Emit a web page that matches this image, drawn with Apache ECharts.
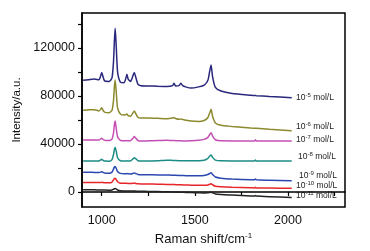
<!DOCTYPE html>
<html>
<head>
<meta charset="utf-8">
<script src="https://cdn.jsdelivr.net/npm/echarts@6/dist/echarts.min.js"></script>
<style>
  html, body { margin: 0; padding: 0; background: #fff; }
  #chart { width: 370px; height: 251px; }
</style>
</head>
<body>
<div id="chart"></div>
<script>
// Raman shift (cm-1) shared by all spectra
const shift = [900, 930, 960, 985, 995, 1000, 1005, 1015, 1040, 1055, 1063, 1068, 1072, 1077, 1085, 1100,
  1120, 1130, 1135, 1142, 1155, 1168, 1175, 1182, 1195, 1210, 1250, 1300, 1350, 1380, 1388, 1396,
  1415, 1425, 1435, 1450, 1480, 1520, 1550, 1570, 1580, 1587, 1595, 1610, 1640, 1700, 1800, 1820,
  1825, 1830, 1900, 2020];

// intensities
const c5 = [93000, 93500, 94000, 93500, 97000, 99400, 97000, 92500, 92000, 95000, 108000, 126000, 136300, 124000, 100000, 91500,
  91000, 95000, 98000, 94000, 92000, 97000, 99400, 96000, 89500, 88500, 88300, 88000, 87800, 88500, 90500, 88300,
  88500, 90500, 88500, 87500, 86500, 87500, 89000, 93000, 101000, 105800, 96000, 87000, 84000, 82000, 80500, 80300,
  80300, 80200, 79500, 78500];
const c6 = [68000, 68500, 68500, 67500, 69000, 70200, 68500, 66500, 66000, 68000, 76000, 88000, 93300, 85000, 70000, 65000,
  64000, 64500, 65000, 63500, 63000, 66000, 67500, 65500, 62000, 61500, 61500, 61300, 61000, 61500, 62000, 61200,
  60500, 60800, 60300, 59800, 59000, 58700, 59500, 62000, 66000, 68900, 63000, 57500, 55500, 54500, 53200, 53100,
  53100, 53000, 52200, 51000];
const c7 = [43300, 43300, 43300, 43200, 44300, 44700, 44000, 43000, 42800, 44000, 49000, 56000, 59000, 54000, 46000, 43000,
  42600, 42700, 42800, 42600, 42800, 44800, 46100, 45000, 42800, 42400, 42600, 42800, 43000, 42800, 42900, 42700,
  42600, 42600, 42500, 42500, 42600, 43000, 43800, 45500, 48000, 49400, 46500, 43500, 42600, 42500, 42500, 42500,
  43400, 42500, 42500, 42500];
const c8 = [25800, 25800, 25800, 25800, 26800, 27200, 26500, 25700, 25600, 27000, 31000, 35500, 37200, 34500, 28500, 26000,
  25700, 25800, 25900, 25700, 25900, 27600, 28600, 27800, 26000, 25700, 25800, 26000, 26500, 26300, 26200, 26200,
  26100, 26000, 26000, 26000, 25900, 26000, 26500, 28000, 30000, 30800, 28800, 26500, 25900, 25800, 25800, 25800,
  26700, 25800, 25800, 25800];
const c9 = [16500, 16500, 16300, 16200, 16600, 16900, 16500, 15800, 15600, 16500, 19000, 20800, 21300, 20000, 17000, 15500,
  15200, 15200, 15300, 15100, 15000, 15500, 15900, 15400, 14600, 14400, 14300, 14200, 14100, 14000, 14000, 13900,
  13800, 13800, 13700, 13600, 13500, 13500, 13800, 14600, 15500, 16000, 14600, 12500, 11500, 10800, 10200, 10100,
  10900, 10100, 9800, 9400];
const c10 = [7800, 7800, 7800, 7800, 7900, 8000, 7900, 7700, 7600, 8200, 10000, 11200, 11500, 10500, 8500, 7300,
  7200, 7200, 7200, 7100, 7000, 7200, 7400, 7100, 6800, 6700, 6600, 6500, 6300, 6200, 6200, 6100,
  6000, 6000, 5900, 5800, 5700, 5600, 5600, 5900, 6500, 6800, 6000, 4800, 4300, 3900, 3500, 3400,
  3900, 3400, 3300, 3100];
const c11 = [1800, 1800, 1800, 1700, 1700, 1700, 1700, 1600, 1500, 1700, 2300, 2700, 2900, 2600, 1700, 1000,
  900, 900, 900, 850, 800, 800, 800, 750, 650, 600, 450, 300, 150, 50, 0, -50,
  -150, -200, -250, -350, -500, -700, -800, -700, -400, -300, -700, -1600, -2100, -2600, -3300, -3400,
  -3000, -3400, -3900, -4500];

const names = ['5', '6', '7', '8', '9', '10', '11'];
const spectra = [c5, c6, c7, c8, c9, c10, c11];
const colors = ['#29287c', '#8c8a2e', '#c44fb4', '#1c8c84', '#2c48b0', '#e8262a', '#222222'];
// label anchor (left x, middle y) for the concentration tags
const tagPos = [[296, 99], [296, 128], [296, 141], [298, 158], [299, 177], [296, 187], [296, 197]];

const xTicks = [1000, 1250, 1500, 1750, 2000, 2250];
const xLabels = [1000, 1500, 2000];
const yTicks = [0, 20000, 40000, 60000, 80000, 100000, 120000, 140000];
const yLabels = [0, 40000, 80000, 120000];

const font = 'Liberation Sans, Arial, sans-serif';
const myChart = echarts.init(document.getElementById('chart'));

let seriesArr = spectra.map((vals, i) => ({
  name: names[i],
  type: 'line',
  data: shift.map((x, k) => [x, vals[k]]),
  showSymbol: false,
  smooth: 0.2,
  lineStyle: { color: colors[i], width: 1.5 },
  color: colors[i],
  silent: true,
}));

myChart.setOption({
  animation: false,
  textStyle: { fontFamily: font },
  grid: {
    left: 82, right: 25, top: 13, bottom: 44,
    show: true, borderColor: '#000', borderWidth: 1.5,
  },
  xAxis: {
    type: 'value',
    min: 894,
    max: 2306,
    name: '{a|Raman shift/cm}{s|-1}',
    nameLocation: 'middle',
    nameGap: 22,
    nameTextStyle: {
      padding: [0, 20, 0, 0],
      rich: {
        a: { fontSize: 13, color: '#111', fontFamily: font },
        s: { fontSize: 8, color: '#111', fontFamily: font, padding: [0, 0, 7, 0] },
      },
    },
    axisLine: { lineStyle: { color: '#000', width: 1.5 } },
    axisTick: { inside: false, length: 4, customValues: xTicks, lineStyle: { color: '#000', width: 1.2 } },
    axisLabel: { customValues: xLabels, fontSize: 12.5, color: '#111', margin: 7, formatter: (v) => String(v) },
    splitLine: { show: false },
  },
  yAxis: {
    type: 'value',
    min: -12500,
    max: 149000,
    name: 'Intensity/a.u.',
    nameLocation: 'middle',
    nameGap: 50,
    nameTextStyle: { fontSize: 11.5, color: '#111' },
    axisLine: { lineStyle: { color: '#000', width: 1.5 } },
    axisTick: { inside: false, length: 4, customValues: yTicks, lineStyle: { color: '#000', width: 1.2 } },
    axisLabel: { customValues: yLabels, fontSize: 12.5, color: '#111', margin: 7, formatter: (v) => String(v) },
    splitLine: { show: false },
  },
  graphic: names.map((n, i) => ({
    type: 'text',
    left: tagPos[i][0],
    top: tagPos[i][1] - 7,
    silent: true,
    style: {
      text: '{b|10}{s|-' + n + '}{b| mol/L}',
      rich: {
        b: { fontSize: 8.5, fill: '#222', fontFamily: font },
        s: { fontSize: 6, fill: '#222', fontFamily: font, padding: [0, 0, 6, 0] },
      },
    },
  })),
  series: seriesArr,
});
</script>
</body>
</html>
